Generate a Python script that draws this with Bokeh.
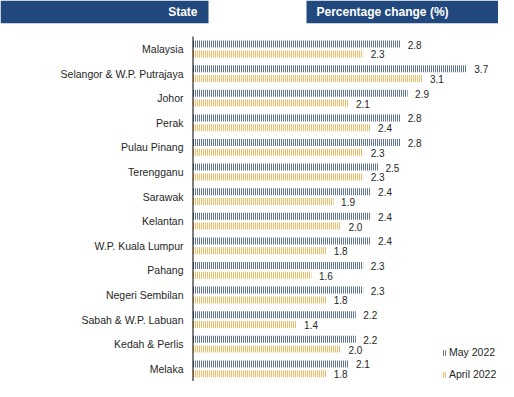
from bokeh.plotting import figure
from bokeh.models import Range1d, Legend, LegendItem, ColumnDataSource
from bokeh.transform import dodge
from bokeh.core.properties import value
from bokeh.embed import file_html
from bokeh.resources import INLINE

states = ["Malaysia", "Selangor & W.P. Putrajaya", "Johor", "Perak", "Pulau Pinang",
          "Terengganu", "Sarawak", "Kelantan", "W.P. Kuala Lumpur", "Pahang",
          "Negeri Sembilan", "Sabah & W.P. Labuan", "Kedah & Perlis", "Melaka"]
may_2022 = [2.8, 3.7, 2.9, 2.8, 2.8, 2.5, 2.4, 2.4, 2.4, 2.3, 2.3, 2.2, 2.2, 2.1]
april_2022 = [2.3, 3.1, 2.1, 2.4, 2.3, 2.3, 1.9, 2.0, 1.8, 1.6, 1.8, 1.4, 2.0, 1.8]
series_names = ["May 2022", "April 2022"]
header_left = "State"
header_right = "Percentage change (%)"

NAVY = "#1C3A68"
ORANGE = "#EE9C1C"
HEADER = "#21497D"
FONT = "Liberation Sans"
TXT = "#262626"

# layout (pixels)
W, H = 498, 381
PX = 74.0          # pixels per percentage point
AXIS_X = 192.5     # pixel position of the zero line
ROW0 = 48.5        # pixel centre of first row
PITCH = 24.6       # pixels between rows


def xd(px):
    return (px - AXIS_X) / PX


def yd(py):
    return (py - ROW0) / PITCH


idx = list(range(len(states)))
src = ColumnDataSource(dict(
    idx=idx, zero=[0] * len(idx), state=states,
    may=may_2022, apr=april_2022,
    may_lbl=[f"{v:.1f}" for v in may_2022],
    apr_lbl=[f"{v:.1f}" for v in april_2022],
))

p = figure(width=W, height=H, output_backend="svg", toolbar_location=None,
           x_range=Range1d(xd(0), xd(W)), y_range=Range1d(yd(H), yd(0)),
           min_border=0, title=None)
p.outline_line_color = None
p.grid.visible = False
p.axis.visible = False
p.background_fill_color = "white"
p.border_fill_color = "white"

OFF = 4.9 / PITCH
BH = 7.0 / PITCH
common = dict(source=src, fill_color="white", line_color=None,
              hatch_pattern="vertical_line", hatch_scale=2, hatch_weight=1.4)
r_may = p.hbar(y=dodge("idx", -OFF, range=p.y_range), left=0, right="may", height=BH,
               hatch_color=NAVY, **common)
r_apr = p.hbar(y=dodge("idx", OFF, range=p.y_range), left=0, right="apr", height=BH,
               hatch_color=ORANGE, **common)

# zero line (category axis line)
p.segment(x0=[0], x1=[0], y0=[yd(36)], y1=[yd(H)], line_color="black", line_width=1)

# category labels
p.text(x="zero", y="idx", text="state", source=src, x_offset=-9.5,
       text_align="right", text_baseline="middle",
       text_font=value(FONT), text_font_size="10.5px", text_color=TXT)

# value labels
p.text(x="may", y=dodge("idx", -OFF, range=p.y_range), text="may_lbl", source=src,
       x_offset=7.5, y_offset=0.5, text_baseline="middle", text_align="left",
       text_font=value(FONT), text_font_size="10px", text_color=TXT)
p.text(x="apr", y=dodge("idx", OFF, range=p.y_range), text="apr_lbl", source=src,
       x_offset=7.5, y_offset=0.5, text_baseline="middle", text_align="left",
       text_font=value(FONT), text_font_size="10px", text_color=TXT)

# header boxes
p.quad(left=[xd(0), xd(306)], right=[xd(208), xd(W)], top=[yd(0), yd(0)],
       bottom=[yd(22.7), yd(22.7)], fill_color=HEADER, line_color=None)
p.text(x=[xd(197)], y=[yd(11.5)], text=[header_left], text_align="right",
       text_baseline="middle", text_font=value(FONT), text_font_size="12px",
       text_font_style="bold", text_color="white")
p.text(x=[xd(316)], y=[yd(11.5)], text=[header_right], text_align="left",
       text_baseline="middle", text_font=value(FONT), text_font_size="12px",
       text_font_style="bold", text_color="white")

legend = Legend(items=[LegendItem(label=series_names[0], renderers=[r_may]),
                       LegendItem(label=series_names[1], renderers=[r_apr])],
                location=(442, 1), orientation="vertical",
                border_line_color=None, background_fill_alpha=0,
                padding=0, margin=0, spacing=10, label_height=12,
                glyph_width=4, glyph_height=7, label_standoff=3,
                label_text_font=FONT, label_text_font_size="10.5px",
                label_text_color=TXT)
p.add_layout(legend)

open("out.html", "w").write(file_html(p, INLINE))
